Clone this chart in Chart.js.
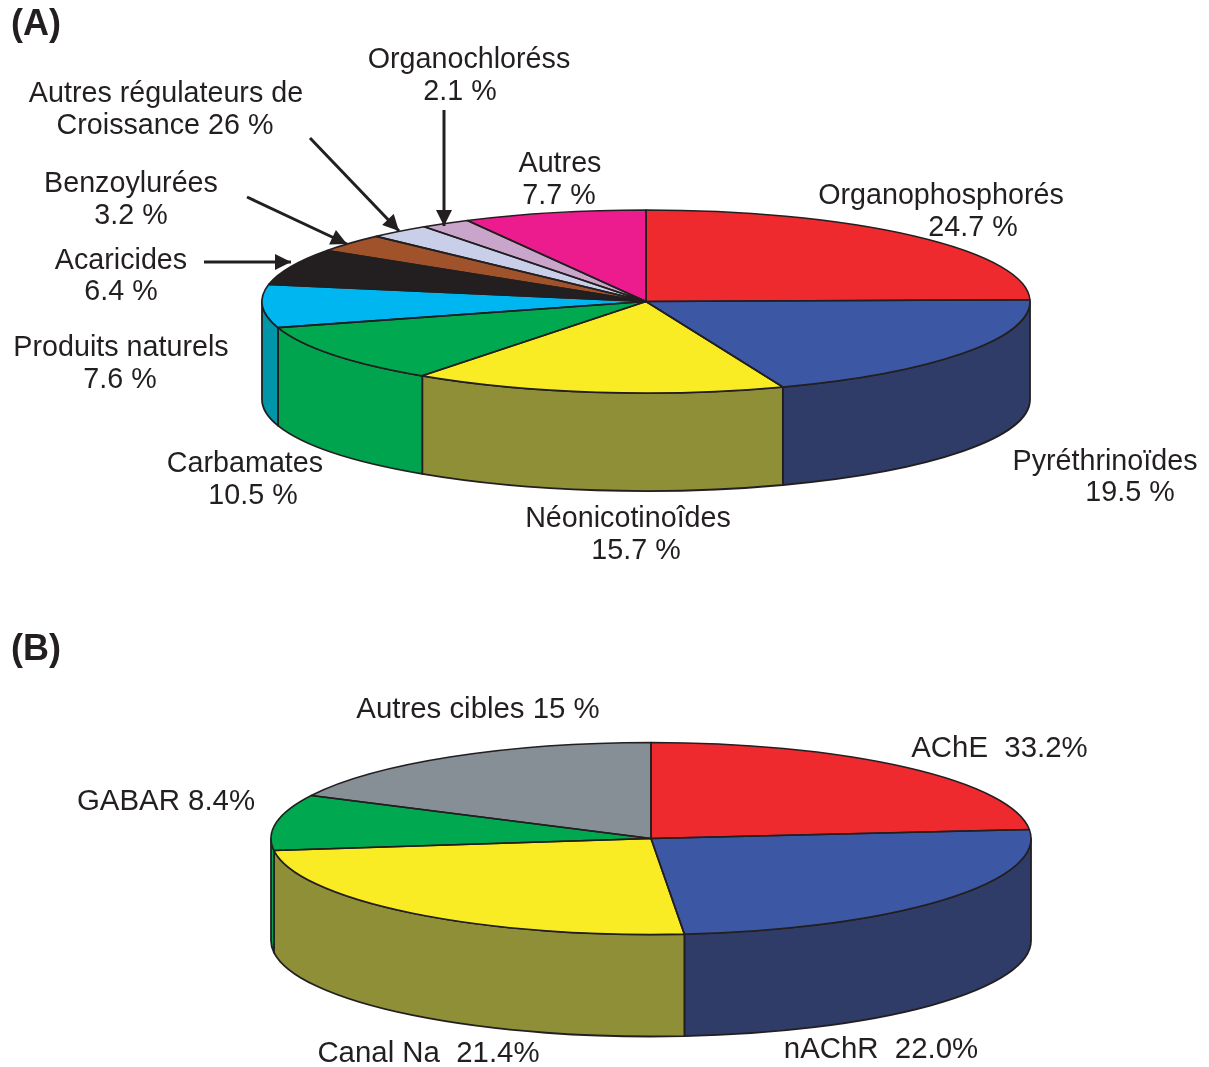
<!DOCTYPE html>
<html lang="fr">
<head>
<meta charset="utf-8">
<title>Insecticides</title>
<script src="https://cdn.jsdelivr.net/npm/chart.js@4/dist/chart.umd.min.js"></script>
<style>
html,body{margin:0;padding:0;background:#fff;overflow:hidden}
canvas,svg{position:absolute;left:0;top:0}
text{font-family:"Liberation Sans",Arial,sans-serif;font-size:28.7px;fill:#231f20;text-anchor:middle;white-space:pre}
text.k{font-size:29.4px}
text.h{font-weight:bold;font-size:36px}
</style>
</head>
<body>
<canvas id="a" width="1209" height="1067"></canvas>
<canvas id="b" width="1209" height="1067"></canvas>
<svg id="notes" width="1209" height="1067" xmlns="http://www.w3.org/2000/svg">
<defs><marker id="tip" viewBox="0 0 10 10" refX="10" refY="5" markerWidth="18" markerHeight="16" markerUnits="userSpaceOnUse" orient="auto"><path d="M0 0L10 5L0 10z" fill="#231f20"/></marker></defs>
<g stroke="#231f20" stroke-width="3">
<line x1="204" y1="262" x2="291" y2="262" marker-end="url(#tip)"/>
<line x1="247" y1="197" x2="347" y2="244" marker-end="url(#tip)"/>
<line x1="310" y1="138" x2="399" y2="231" marker-end="url(#tip)"/>
<line x1="444" y1="110" x2="444" y2="226" marker-end="url(#tip)"/>
</g>
<text class="h" x="36" y="35">(A)</text>
<text x="469" y="68">Organochloréss</text><text x="460" y="100">2.1 %</text>
<text x="166" y="102">Autres régulateurs de</text><text x="165" y="134">Croissance 26 %</text>
<text x="560" y="172">Autres</text><text x="559" y="204">7.7 %</text>
<text x="941" y="204">Organophosphorés</text><text x="973" y="236">24.7 %</text>
<text x="131" y="192">Benzoylurées</text><text x="131" y="224">3.2 %</text>
<text x="121" y="269">Acaricides</text><text x="121" y="300">6.4 %</text>
<text x="121" y="356">Produits naturels</text><text x="120" y="388">7.6 %</text>
<text x="245" y="472">Carbamates</text><text x="253" y="504">10.5 %</text>
<text x="1105" y="470">Pyréthrinoïdes</text><text x="1130" y="501">19.5 %</text>
<text x="628" y="527">Néonicotinoîdes</text><text x="636" y="559">15.7 %</text>
<text class="h" x="36" y="660">(B)</text>
<text class="k" x="478" y="718">Autres cibles 15 %</text>
<text class="k" x="999.5" y="757">AChE  33.2%</text>
<text class="k" x="166" y="810">GABAR 8.4%</text>
<text class="k" x="428.5" y="1062">Canal Na  21.4%</text>
<text class="k" x="881" y="1058">nAChR  22.0%</text>
</svg>
<script>
// Panel A: classes of insecticides (share of market, %)
const categoriesA = ['Organophosphorés','Pyréthrinoïdes','Néonicotinoîdes','Carbamates','Produits naturels','Acaricides','Benzoylurées','Autres régulateurs de Croissance','Organochloréss','Autres'];
const valuesA = [24.7,19.5,15.7,10.5,7.6,6.4,3.2,2.6,2.1,7.7];
const topColorsA = ['#ee2a2e','#3c58a4','#f9ec24','#00a84f','#00b6f0','#231f20','#a0522a','#c9cfe8','#c9a4cb','#ec1c8e'];
const wallColorsA = ['#ee2a2e','#2f3c68','#8f8f38','#00a44e','#0096a8','#231f20','#a0522a','#c9cfe8','#c9a4cb','#ec1c8e'];

// Panel B: targets, slice sizes as drawn in the picture (%)
const categoriesB = ['AChE','nAChR','Canal Na','GABAR','Autres cibles'];
const valuesB = [23.5,25.1,24.4,9.4,17.6];
const topColorsB = ['#ee2a2e','#3c58a4','#f9ec24','#00a84f','#868e96'];
const wallColorsB = ['#ee2a2e','#2f3c68','#8f8f38','#00a44e','#868e96'];

const ink = '#231f20';

function tiltPlugin(squash, depth, wallColors){
  return {
    id:'tilt',
    beforeDatasetsDraw(chart){
      const c = chart.ctx, arcs = chart.getDatasetMeta(0).data;
      arcs.forEach((arc,i)=>{
        const a = Math.max(arc.startAngle,0), b = Math.min(arc.endAngle,Math.PI);
        if(b<=a) return;
        const r = arc.outerRadius, ry = r*squash;
        c.beginPath();
        c.ellipse(arc.x,arc.y,r,ry,0,a,b);
        c.ellipse(arc.x,arc.y+depth,r,ry,0,b,a,true);
        c.closePath();
        c.fillStyle = wallColors[i];
        c.fill();
        c.strokeStyle = ink; c.lineWidth = 1.8; c.lineJoin='round';
        c.stroke();
      });
      const p = arcs[0];
      c.save();
      c.translate(p.x,p.y); c.scale(1,squash); c.translate(-p.x,-p.y);
    },
    afterDatasetsDraw(chart){
      const c = chart.ctx, arcs = chart.getDatasetMeta(0).data;
      c.restore();
      arcs.forEach(arc=>{
        const r = arc.outerRadius;
        c.beginPath();
        c.moveTo(arc.x,arc.y);
        c.ellipse(arc.x,arc.y,r,r*squash,0,arc.startAngle,arc.endAngle);
        c.closePath();
        c.strokeStyle = ink; c.lineWidth = 1.6; c.lineJoin='round';
        c.stroke();
      });
    }
  };
}

function makePie(id,labels,values,colors,walls,radius,squash,depth,padding){
  return new Chart(document.getElementById(id),{
    type:'pie',
    data:{labels:labels,datasets:[{data:values,backgroundColor:colors,borderWidth:0,clip:false,hoverOffset:0}]},
    options:{
      responsive:false,animation:false,devicePixelRatio:1,
      radius:radius,
      layout:{padding:padding},
      events:[],
      plugins:{legend:{display:false},tooltip:{enabled:false},title:{display:false}}
    },
    plugins:[tiltPlugin(squash,depth,walls)]
  });
}
makePie('a',categoriesA,valuesA,topColorsA,wallColorsA,384,91.5/384,98,{left:83,right:0,top:0,bottom:464});
makePie('b',categoriesB,valuesB,topColorsB,wallColorsB,380,96/380,102,{left:93,right:0,top:610,bottom:0});
</script>
</body>
</html>
